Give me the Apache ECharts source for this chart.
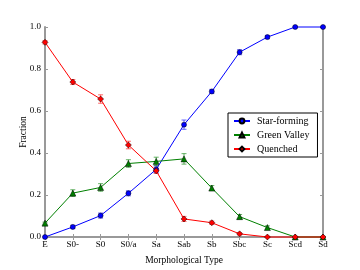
<!DOCTYPE html>
<html><head><meta charset="utf-8">
<script src="https://cdn.jsdelivr.net/npm/echarts@6/dist/echarts.min.js"></script>
<style>html,body{margin:0;padding:0;background:#fff}#c{width:360px;height:270px}</style>
</head><body><div id="c"></div>
<script>
var categories = ['E','S0-','S0','S0/a','Sa','Sab','Sb','Sbc','Sc','Scd','Sd'];
var yTicks = [0.0,0.2,0.4,0.6,0.8,1.0];
var starForming = [0.0,0.048,0.102,0.208,0.322,0.535,0.693,0.880,0.952,1.0,1.0];
var starErr = [0.003,0.008,0.012,0.012,0.016,0.022,0.010,0.012,0.008,0.003,0.003];
var greenValley = [0.066,0.209,0.236,0.350,0.360,0.372,0.233,0.097,0.045,0.0,0.0];
var greenErr = [0.005,0.016,0.018,0.018,0.020,0.025,0.012,0.010,0.008,0.003,0.003];
var quenched = [0.927,0.738,0.657,0.438,0.315,0.086,0.068,0.015,0.0,0.0,0.0];
var quenchedErr = [0.008,0.012,0.020,0.018,0.012,0.012,0.008,0.005,0.003,0.003,0.003];
var names = ['Star-forming','Green Valley','Quenched'];
var colors = ['#0000ff','#008000','#ff0000'];
var errColors = ['rgba(0,0,255,0.6)','rgba(0,128,0,0.6)','rgba(255,0,0,0.6)'];
var symbols = ['circle','triangle','diamond'];
var symbolSizes = [5,6,6];
var values = [starForming, greenValley, quenched];
var errs = [starErr, greenErr, quenchedErr];

var chart = echarts.init(document.getElementById('c'), null, {renderer:'canvas'});
var font = 'Liberation Serif';
var series = [];
values.forEach(function(v, i){
  series.push({
    type:'custom', name:names[i] + ' err', xAxisIndex:0, yAxisIndex:0, silent:true,
    itemStyle:{color:colors[i]},
    data: v.map(function(y,j){return [j, y - errs[i][j], y + errs[i][j]];}),
    renderItem: function(params, api){
      var x = api.value(0);
      var lo = api.coord([x, api.value(1)]);
      var hi = api.coord([x, api.value(2)]);
      var c = errColors[i];
      return {type:'group', children:[
        {type:'line', shape:{x1:lo[0],y1:lo[1],x2:hi[0],y2:hi[1]}, style:{stroke:c,lineWidth:1}},
        {type:'line', shape:{x1:lo[0]-2.5,y1:lo[1],x2:lo[0]+2.5,y2:lo[1]}, style:{stroke:c,lineWidth:1}},
        {type:'line', shape:{x1:hi[0]-2.5,y1:hi[1],x2:hi[0]+2.5,y2:hi[1]}, style:{stroke:c,lineWidth:1}}
      ]};
    },
    z:3
  });
  series.push({
    type:'line', name:names[i], data:v, symbol:symbols[i], symbolSize:symbolSizes[i],
    showAllSymbol:true, clip:false, color:colors[i],
    lineStyle:{color:colors[i], width:1},
    itemStyle:{color:colors[i], borderColor:'#000', borderWidth:0.5},
    z:4
  });
});

chart.setOption({
  animation:false,
  backgroundColor:'#fff',
  textStyle:{fontFamily:font},
  grid:{left:45, right:37, top:27, bottom:28, containLabel:false},
  legend:{
    data: names.slice(),
    orient:'vertical', left:228, top:113, width:94,
    padding:[3,8,3,5], itemGap:4, itemWidth:16, itemHeight:6,
    borderColor:'#000', borderWidth:1, backgroundColor:'#fff',
    textStyle:{fontFamily:font, fontSize:10, color:'#000', padding:[0,0,0,2]}
  },
  xAxis:[{
    type:'category', data:categories, boundaryGap:false,
    name:'Morphological Type', nameLocation:'middle', nameGap:18, nameMoveOverlap:false,
    nameTextStyle:{fontFamily:font, fontSize:9.5, color:'#000'},
    axisLine:{lineStyle:{color:'#999', width:2}},
    axisTick:{inside:true, length:3, alignWithLabel:true, lineStyle:{color:'#999'}},
    axisLabel:{fontFamily:font, fontSize:9, color:'#000', margin:3, interval:0},
    splitLine:{show:false}
  },{
    type:'category', data:categories, boundaryGap:false, position:'top',
    axisLine:{lineStyle:{color:'#999', width:2}},
    axisTick:{inside:true, length:3, lineStyle:{color:'#999'}},
    axisLabel:{show:false}, splitLine:{show:false}
  }],
  yAxis:[{
    type:'value', min:0, max:1, interval:0.2,
    name:'Fraction', nameLocation:'middle', nameGap:17, nameMoveOverlap:false,
    nameTextStyle:{fontFamily:font, fontSize:9.5, color:'#000'},
    axisLine:{show:true, lineStyle:{color:'#999', width:2}},
    axisTick:{show:true, inside:true, length:3, lineStyle:{color:'#999'}},
    axisLabel:{fontFamily:font, fontSize:9, color:'#000', margin:4,
      formatter:function(v){return v.toFixed(1);}},
    splitLine:{show:false}
  },{
    type:'value', min:0, max:1, interval:0.2, position:'right',
    axisLine:{show:true, lineStyle:{color:'#999', width:2}},
    axisTick:{show:true, inside:true, length:3, lineStyle:{color:'#999'}},
    axisLabel:{show:false}, splitLine:{show:false}
  }],
  series: series
});
</script></body></html>
